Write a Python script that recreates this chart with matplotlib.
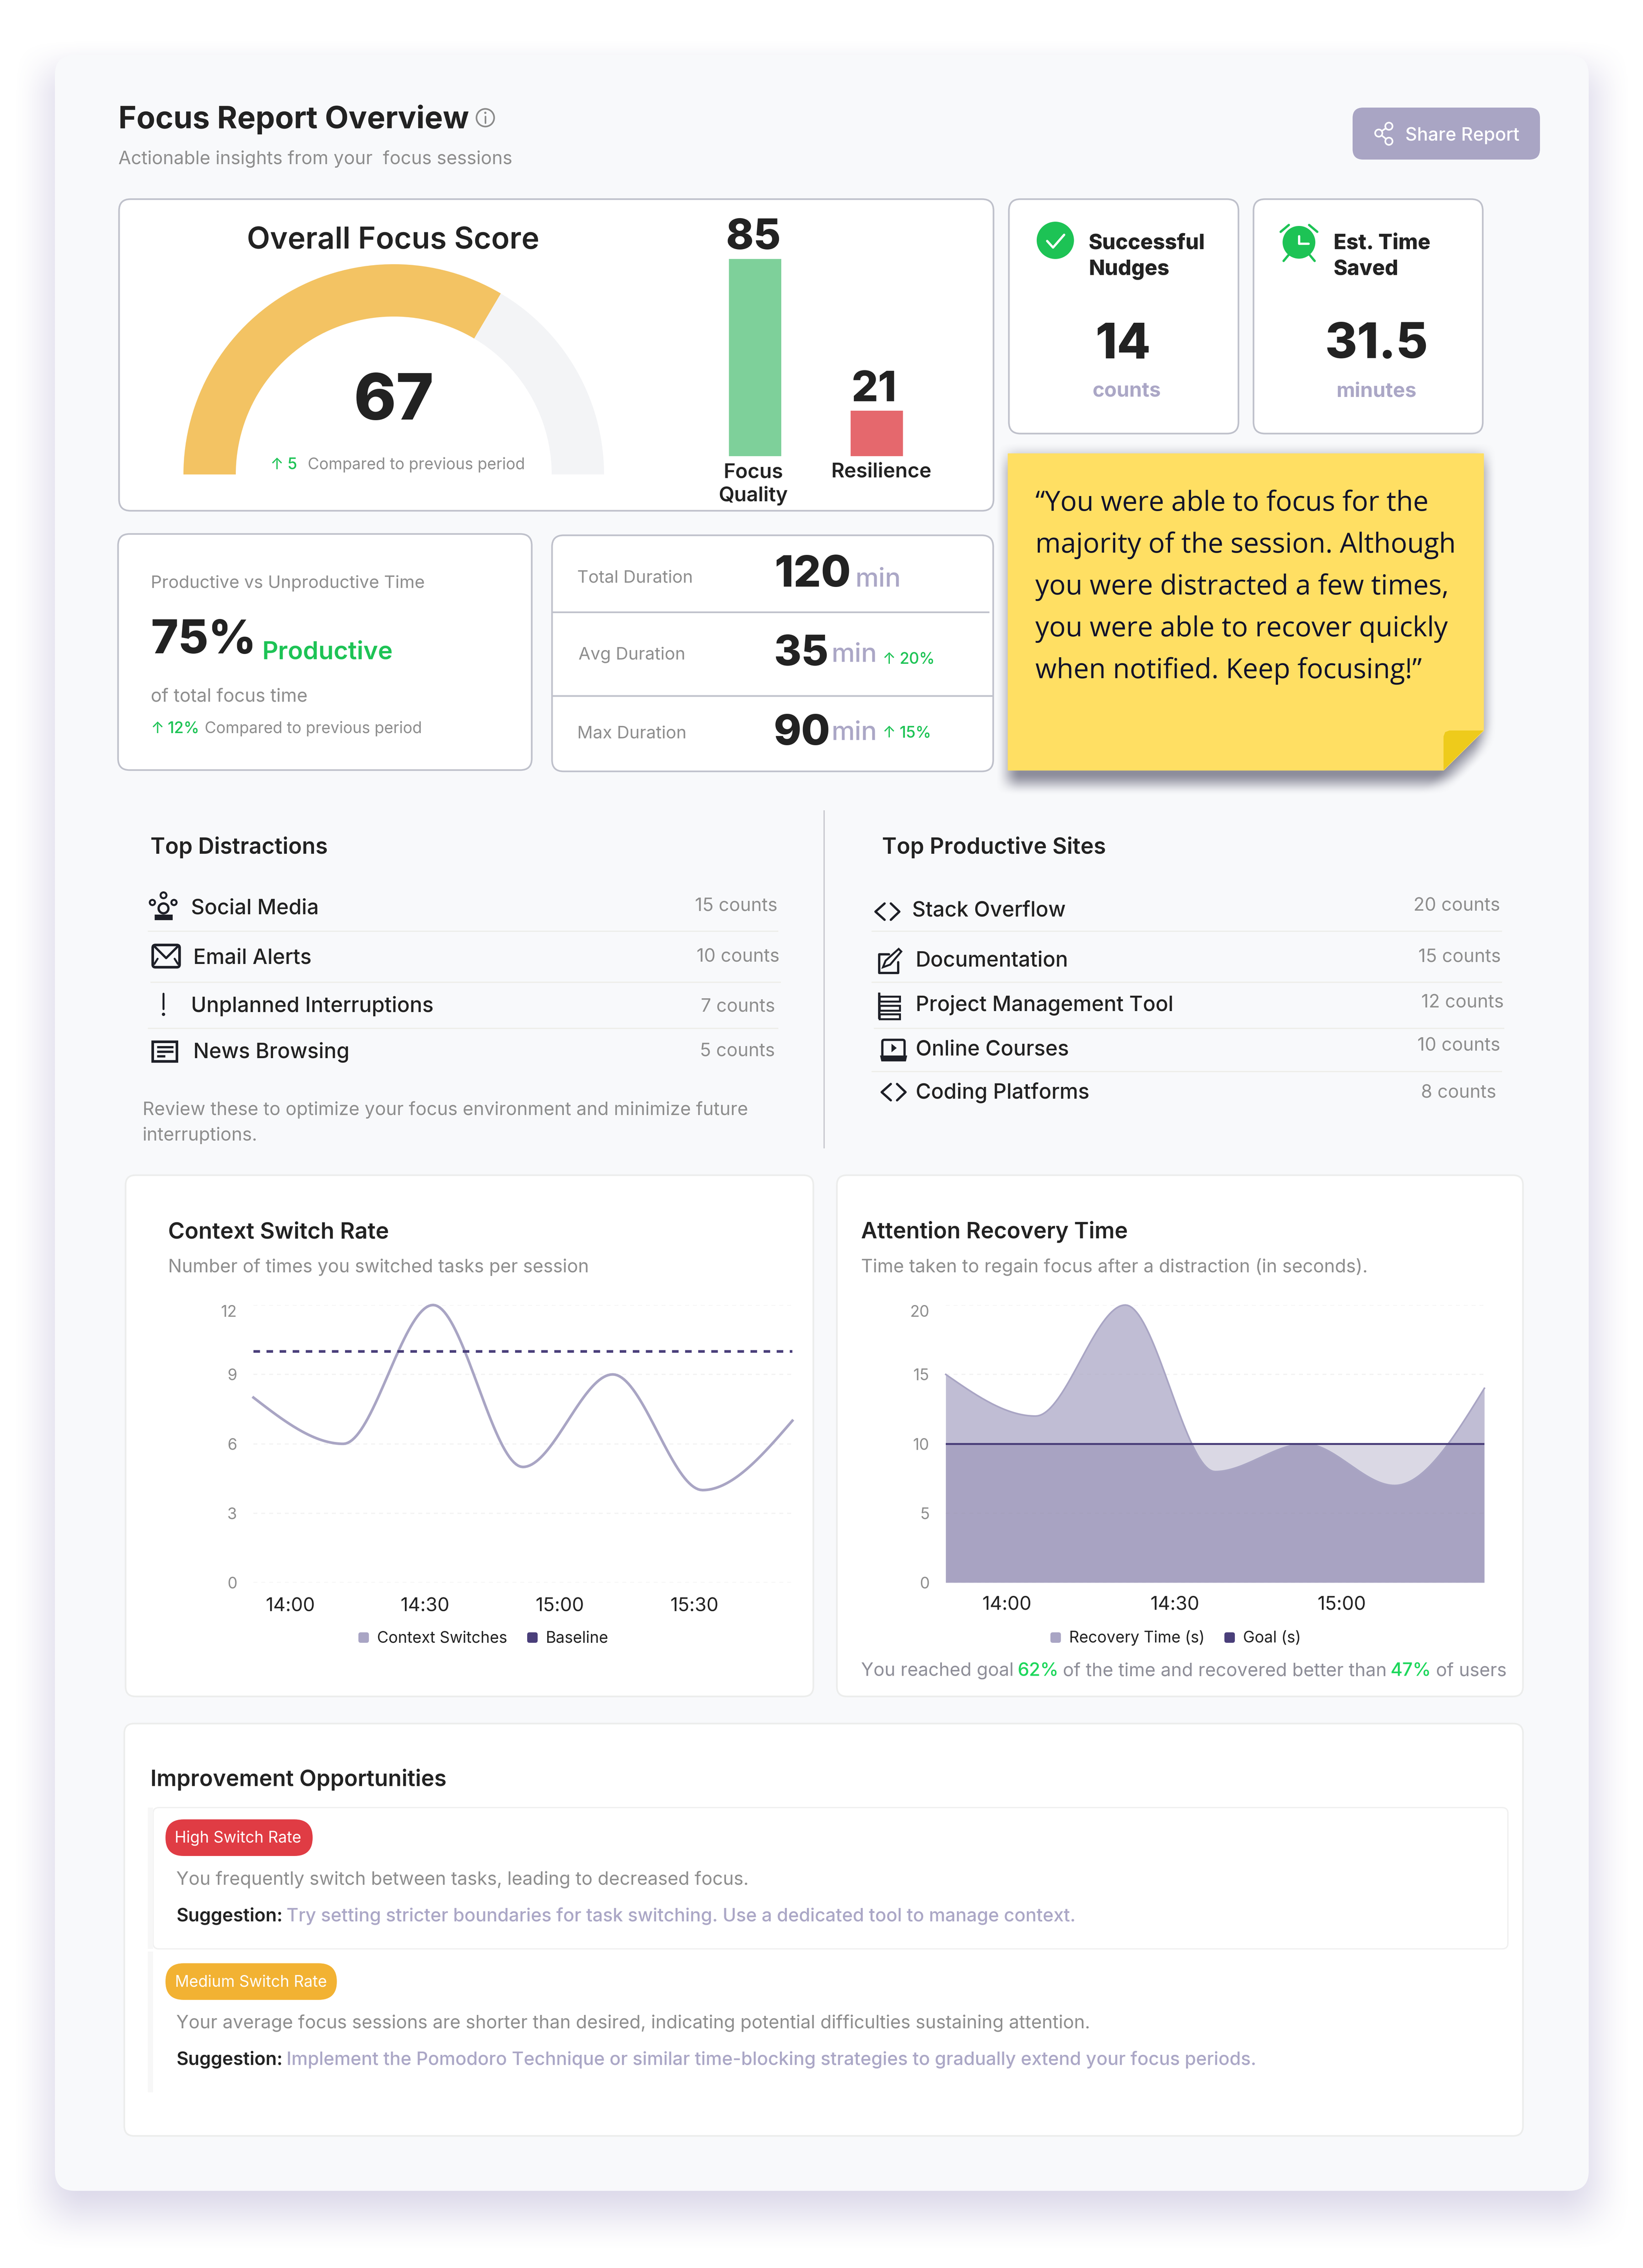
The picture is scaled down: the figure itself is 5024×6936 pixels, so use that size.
#!/usr/bin/env python
"""Focus report dashboard, drawn on a pixel canvas with two real chart axes."""

import numpy as np
import matplotlib
matplotlib.use("Agg")
import matplotlib.pyplot as plt
from matplotlib.colors import to_rgb
from matplotlib.patches import FancyBboxPatch, Wedge, Circle, Polygon, Rectangle

W, H = 5024, 6936

# data
gauge_score = 67
gauge_max = 100
bar_names = ["Focus\nQuality", "Resilience"]
bar_values = [85, 21]

distraction_names = ["Social Media", "Email Alerts", "Unplanned Interruptions", "News Browsing"]
distraction_counts = [15, 10, 7, 5]
site_names = ["Stack Overflow", "Documentation", "Project Management Tool", "Online Courses", "Coding Platforms"]
site_counts = [20, 15, 12, 10, 8]

switch_values = [8, 6, 12, 5, 9, 4, 7]
switch_baseline = [10, 10, 10, 10, 10, 10, 10]
switch_ticks = [0.41, 1.91, 3.41, 4.91]
switch_tick_labels = ["14:00", "14:30", "15:00", "15:30"]
switch_yticks = [0, 3, 6, 9, 12]

recovery_values = [15, 12, 20, 8, 10, 7, 14]
recovery_goal = [10, 10, 10, 10, 10, 10, 10]
recovery_ticks = [0.68, 2.55, 4.41]
recovery_tick_labels = ["14:00", "14:30", "15:00"]
recovery_yticks = [0, 5, 10, 15, 20]

# colours
PAGE = "#F8F9FB"
INK = "#222222"
ICON = "#1E2028"
GREY = "#8E8E8E"
LAV = "#A9A5C4"
LAV_TXT = "#ABA7C6"
DARK = "#4A3F7A"
GREEN = "#1DC355"
BORDER = "#BFC1CB"
RULE = "#EEEEEA"
SOFT = "#ECEDEC"

FONT = ["Inter", "DejaVu Sans"]
plt.rcParams["font.family"] = FONT

fig = plt.figure(figsize=(W / 100, H / 100), dpi=100, facecolor="white")
ax = fig.add_axes([0, 0, 1, 1])
ax.axis("off")


def px(v):
    # canvas pixels to points
    return v * 0.72


def T(x, y, s, size, color=INK, weight="normal", ha="left", family=None):
    return ax.text(x, y, s, fontsize=px(size), color=color, fontweight=weight, ha=ha,
                   va="baseline", family=family or FONT, zorder=6)


def box(x0, y0, x1, y1, r=35, fc="white", ec="none", lw=0, z=2, alpha=None):
    p = FancyBboxPatch((x0, y0), x1 - x0, y1 - y0, boxstyle=f"round,pad=0,rounding_size={r}",
                       fc=fc, ec=ec, lw=px(lw), zorder=z, alpha=alpha)
    ax.add_patch(p)
    return p


def ramp(v, start, end):
    t = np.clip((v - start) / (end - start), 0, 1)
    return t * t * (3 - 2 * t)


def shadow_image(x0, y0, x1, y1, color, alpha_field, step, z):
    # alpha_field gets pixel coordinates, returns 0..1 opacity
    xs = np.arange(x0, x1, step)
    ys = np.arange(y0, y1, step)
    xx, yy = np.meshgrid(xs, ys)
    rgba = np.zeros(xx.shape + (4,))
    rgba[..., :3] = to_rgb(color)
    rgba[..., 3] = alpha_field(xx, yy)
    ax.imshow(rgba, extent=(x0, x1, y1, y0), origin="upper", aspect="auto", interpolation="bilinear", zorder=z)


def stroke(xs, ys, lw=8, color=ICON, z=6, cap="round"):
    ax.plot(xs, ys, color=color, lw=px(lw), solid_capstyle=cap, solid_joinstyle="round", zorder=z)


def ring(x, y, r, lw=8, color=ICON, fc="none", z=6):
    ax.add_patch(Circle((x, y), r, fc=fc, ec=color, lw=px(lw), zorder=z))


def px_axes(x0, y0, x1, y1):
    a = fig.add_axes([x0 / W, 1 - y1 / H, (x1 - x0) / W, (y1 - y0) / H], zorder=3)
    a.patch.set_alpha(0)
    return a


def monotone_curve(values, n=40):
    # same curve as a monotone-x spline: flat at local extremes, no overshoot
    y = np.asarray(values, float)
    s = np.diff(y)
    t = np.zeros(len(y))
    for i in range(1, len(y) - 1):
        p = (s[i - 1] + s[i]) / 2
        t[i] = (np.sign(s[i - 1]) + np.sign(s[i])) * min(abs(s[i - 1]), abs(s[i]), 0.5 * abs(p))
    t[0] = (3 * s[0] - t[1]) / 2
    t[-1] = (3 * s[-1] - t[-2]) / 2
    xs, ys = [], []
    u = np.linspace(0, 1, n, endpoint=False)
    for i in range(len(y) - 1):
        h00 = 2 * u**3 - 3 * u**2 + 1
        h10 = u**3 - 2 * u**2 + u
        h01 = -2 * u**3 + 3 * u**2
        h11 = u**3 - u**2
        xs.append(i + u)
        ys.append(h00 * y[i] + h10 * t[i] + h01 * y[i + 1] + h11 * t[i + 1])
    return np.append(np.concatenate(xs), len(y) - 1), np.append(np.concatenate(ys), y[-1])


def style_chart(a, xmax, yticks, xticks, xlabels, xpad):
    a.set_xlim(0, xmax)
    a.set_ylim(yticks[0], yticks[-1])
    for sp in a.spines.values():
        sp.set_visible(False)
    a.set_yticks(yticks)
    a.set_xticks(xticks)
    a.set_xticklabels(xlabels)
    a.tick_params(axis="x", length=0, pad=px(xpad), labelsize=px(58), labelcolor=INK)
    a.tick_params(axis="y", length=0, pad=px(50), labelsize=px(48), labelcolor=GREY)
    a.get_yticklabels()[-1].set_verticalalignment("top")
    a.grid(axis="y", color="#F3F3F3", lw=px(4), dashes=(3, 3))
    a.set_axisbelow(True)


def legend_item(x, label, color):
    box(x - 16, 4992, x + 16, 5024, r=7, fc=color, z=6)
    T(x + 41, 5023, label, 48, INK)


# page and main card
shadow_image(0, 0, W, H, "#6F62A8",
             lambda xx, yy: 0.25 * ramp(xx, 30, 260) * ramp(xx, W - 30, W - 260)
             * ramp(yy, 110, 300) * ramp(yy, 6890, 6660), 4, 1)
box(168, 168, 4858, 6700, 61, fc=PAGE, z=1.5)

# header
T(362, 392, "Focus Report Overview", 94, INK, "bold")
ring(1484, 360, 27, 5, "#8B8B8B")
stroke([1484, 1484], [356, 376], 5, "#8B8B8B")
ax.add_patch(Circle((1484, 345), 3.5, fc="#8B8B8B", zorder=6))
T(362, 502, "Actionable insights from your  focus sessions", 56, GREY)

box(4136, 329, 4709, 488, 32, fc=LAV)
for nx_, ny_ in [(4216, 407), (4247, 386), (4247, 432)]:
    stroke([4216, nx_], [407, ny_], 5, "white")
for nx_, ny_ in [(4216, 407), (4247, 386), (4247, 432)]:
    ring(nx_, ny_, 11, 5, "white", fc=LAV)
T(4297, 430, "Share Report", 56, "white", "medium")

# focus score card
box(364, 609, 3038, 1562, 35, ec=BORDER, lw=5)
T(1202, 760, "Overall Focus Score", 92, INK, "semibold", ha="center")
gx, gy, gr, gw = 1204, 1451, 643, 160
split = 180 * (1 - gauge_score / gauge_max)
# canvas y points down, so angles run clockwise on screen
ax.add_patch(Wedge((gx, gy), gr, 180, 360, width=gw, fc="#F3F4F6", ec="none", zorder=3))
ax.add_patch(Wedge((gx, gy), gr, 180, 360 - split, width=gw, fc="#F3C363", ec="none", zorder=3))
T(1204, 1283, str(gauge_score), 196, INK, "heavy", ha="center")
T(826, 1435, "↑", 48, GREEN)
T(879, 1435, "5", 48, GREEN, "medium")
T(941, 1435, "Compared to previous period", 48, GREY)

bar_ax = px_axes(2229, 792, 2761, 1395)
bar_rects = bar_ax.bar(range(len(bar_values)), bar_values, width=0.43, color=["#7ED09A", "#E5686D"])
bar_ax.set_xlim(-0.215, 1.215)
bar_ax.set_ylim(1.83, 85)
bar_ax.axis("off")
T(2304, 762, str(bar_values[0]), 128, INK, "heavy", ha="center")
T(2672, 1227, str(bar_values[1]), 128, INK, "heavy", ha="center")
T(2304, 1462, bar_names[0].split("\n")[0], 62, INK, "semibold", ha="center")
T(2304, 1533, bar_names[0].split("\n")[1], 62, INK, "semibold", ha="center")
T(2695, 1460, bar_names[1], 62, INK, "semibold", ha="center")

# nudges card
box(3085, 609, 3787, 1326, 35, ec=BORDER, lw=5)
ax.add_patch(Circle((3227, 735), 57, fc=GREEN, zorder=6))
stroke([3202, 3220, 3254], [737, 757, 718], 7, "white")
T(3329, 761, "Successful", 64, INK, "heavy")
T(3329, 841, "Nudges", 64, INK, "heavy")
T(3434, 1095, "14", 150, INK, "heavy", ha="center")
T(3445, 1214, "counts", 62, LAV_TXT, "bold", ha="center")

# time saved card
box(3833, 609, 4534, 1326, 35, ec=BORDER, lw=5)
ax.add_patch(Circle((3972, 741), 50, fc=GREEN, zorder=6))
stroke([3972, 3972, 4001], [722, 745, 745], 7, "white")
stroke([3916, 3941], [709, 688], 7, GREEN)
stroke([4003, 4028], [688, 709], 7, GREEN)
stroke([3925, 3940], [798, 780], 7, GREEN)
stroke([4020, 4005], [798, 780], 7, GREEN)
T(4078, 761, "Est. Time", 64, INK, "heavy")
T(4078, 841, "Saved", 64, INK, "heavy")
T(4209, 1095, "31.5", 150, INK, "heavy", ha="center")
T(4209, 1214, "minutes", 62, LAV_TXT, "bold", ha="center")

# sticky note
shadow_image(2980, 1300, 4640, 2460, "#5A5A6E",
             lambda xx, yy: 0.68 * ramp(xx, 3043, 3119) * ramp(xx, 4576, 4500)
             * ramp(yy, 1350, 1450) * ramp(yy, 2432, 2362) * ramp(xx + yy, 6855, 6755), 2, 1.6)
ax.add_patch(Polygon([(3083, 1388), (4536, 1388), (4536, 2234), (4414, 2355), (3083, 2355)],
                     fc="#FFDF63", ec="#FFDF63", lw=px(3), joinstyle="round", zorder=2))
ax.add_patch(Polygon([(4414, 2252), (4419, 2239), (4432, 2234), (4536, 2234), (4414, 2355)],
                     fc="#EECB1B", ec="none", zorder=3))
note_lines = ["“You were able to focus for the", "majority of the session. Although",
              "you were distracted a few times,", "you were able to recover quickly",
              "when notified. Keep focusing!”"]
for i, line in enumerate(note_lines):
    T(3166, 1562 + i * 128, line, 84, "#12122A", family=["Open Sans", "DejaVu Sans"])

# productive time card
box(361, 1633, 1626, 2355, 35, ec=BORDER, lw=5)
T(461, 1798, "Productive vs Unproductive Time", 53, GREY)
T(461, 1998, "75%", 142, INK, "heavy")
T(801, 2016, "Productive", 76, GREEN, "semibold")
T(461, 2145, "of total focus time", 56, GREY)
T(461, 2242, "↑", 48, GREEN)
T(513, 2242, "12%", 48, GREEN, "medium")
T(626, 2242, "Compared to previous period", 48, GREY)

# duration card
box(1688, 1637, 3037, 2359, 35, ec=BORDER, lw=5)
stroke([1688, 3025], [1872, 1872], 5, BORDER, cap="butt")
stroke([1688, 3037], [2128, 2128], 5, BORDER, cap="butt")
T(1765, 1781, "Total Duration", 53, GREY)
T(2368, 1794, "120", 132, INK, "heavy")
T(2615, 1794, "min", 80, LAV_TXT, "medium")
T(1769, 2017, "Avg Duration", 53, GREY)
T(2366, 2035, "35", 128, INK, "heavy")
T(2542, 2024, "min", 80, LAV_TXT, "medium")
T(2698, 2030, "↑", 48, GREEN)
T(2751, 2030, "20%", 48, GREEN, "medium")
T(1765, 2257, "Max Duration", 53, GREY)
T(2366, 2278, "90", 128, INK, "heavy")
T(2542, 2263, "min", 80, LAV_TXT, "medium")
T(2698, 2255, "↑", 48, GREEN)
T(2751, 2255, "15%", 48, GREEN, "medium")

# top lists
stroke([2520, 2520], [2478, 3512], 4, "#C9C9CF", cap="butt")
T(460, 2611, "Top Distractions", 68, INK, "semibold")
T(2697, 2611, "Top Productive Sites", 68, INK, "semibold")

d_name_pos = [(584, 2795), (591, 2947), (584, 3095), (591, 3236)]
d_count_pos = [(2377, 2786), (2384, 2942), (2370, 3094), (2370, 3229)]
for name, n, (x, y), (cx, cy) in zip(distraction_names, distraction_counts, d_name_pos, d_count_pos):
    T(x, y, name, 64, INK, "medium")
    T(cx, cy, f"{n} counts", 56, GREY, ha="right")
for y, x0 in [(2848, 452), (3004, 460), (3145, 452)]:
    stroke([x0, x0 + 1928], [y, y], 4, RULE, cap="butt")

s_name_pos = [(2789, 2804), (2800, 2956), (2800, 3092), (2800, 3228), (2800, 3360)]
s_count_pos = [(4587, 2786), (4589, 2942), (4598, 3082), (4588, 3214), (4575, 3358)]
for name, n, (x, y), (cx, cy) in zip(site_names, site_counts, s_name_pos, s_count_pos):
    T(x, y, name, 64, INK, "medium")
    T(cx, cy, f"{n} counts", 56, GREY, ha="right")
for y, x0 in [(2848, 2665), (3004, 2665), (3145, 2672), (3277, 2665)]:
    stroke([x0, x0 + 1928], [y, y], 4, RULE, cap="butt")

T(436, 3410, "Review these to optimize your focus environment and minimize future", 56, GREY)
T(436, 3488, "interruptions.", 56, GREY)

# list icons
ring(500, 2738, 9, 6)
ring(466, 2760, 8, 6)
ring(532, 2760, 8, 6)
ring(500, 2778, 15, 7)
ax.add_patch(Rectangle((473, 2797), 55, 17, fc=ICON, zorder=6))
box(467, 2890, 549, 2958, 8, fc="none", ec=ICON, lw=8, z=6)
stroke([474, 508, 542], [2896, 2930, 2896], 7)
stroke([482, 472], [2932, 2948], 6)
stroke([534, 544], [2932, 2948], 6)
stroke([500, 500], [3039, 3086], 6)
ax.add_patch(Circle((500, 3102), 5, fc=ICON, zorder=6))
ax.add_patch(Rectangle((467, 3186), 74, 60, fc="none", ec=ICON, lw=px(8), zorder=6))
stroke([480, 530], [3202, 3202], 7, cap="butt")
stroke([480, 530], [3216, 3216], 7, cap="butt")
stroke([480, 505], [3230, 3230], 7, cap="butt")

for dx, dy in [(0, 0), (19, 552)]:
    stroke([2705 + dx, 2677 + dx, 2705 + dx], [2763 + dy, 2788 + dy, 2813 + dy], 7)
    stroke([2724 + dx, 2750 + dx, 2724 + dx], [2763 + dy, 2788 + dy, 2813 + dy], 7)
stroke([2718, 2688, 2688, 2746, 2746], [2918, 2918, 2975, 2975, 2942], 7)
ax.add_patch(Polygon([(2748, 2902), (2756, 2910), (2722, 2950), (2700, 2958), (2708, 2938)],
                     fc="none", ec=ICON, lw=px(6), zorder=6))
stroke([2688, 2688], [3035, 3116], 7, cap="butt")
for y0 in [3048, 3076, 3102]:
    ax.add_patch(Rectangle((2690, y0), 62, 15, fc="none", ec=ICON, lw=px(6), zorder=6))
box(2698, 3180, 2766, 3234, 6, fc="none", ec=ICON, lw=7, z=6)
ax.add_patch(Polygon([(2726, 3192), (2726, 3218), (2742, 3205)], fc=ICON, zorder=6))
ax.add_patch(Polygon([(2691, 3228), (2774, 3228), (2770, 3246), (2695, 3246)], fc=ICON, zorder=6))

# context switch chart
box(384, 3594, 2487, 5188, 30, ec=SOFT, lw=5)
T(514, 3787, "Context Switch Rate", 69, INK, "semibold")
T(514, 3891, "Number of times you switched tasks per session", 56, GREY)

ca = px_axes(775, 3991, 2423, 4840)
style_chart(ca, len(switch_values) - 1, switch_yticks, switch_ticks, switch_tick_labels, 45)
cx_, cy_ = monotone_curve(switch_values)
ca.plot(cx_, cy_, color=LAV, lw=px(8), clip_on=False)
ca.plot(range(len(switch_baseline)), switch_baseline, color=DARK, lw=px(8), dashes=(2.5, 2.5), clip_on=False)
legend_item(1112, "Context Switches", LAV)
legend_item(1628, "Baseline", DARK)

# recovery chart
box(2559, 3594, 4657, 5188, 30, ec=SOFT, lw=5)
T(2633, 3787, "Attention Recovery Time", 68, INK, "semibold")
T(2633, 3891, "Time taken to regain focus after a distraction (in seconds).", 56, GREY)

ra = px_axes(2892, 3991, 4539, 4840)
style_chart(ra, len(recovery_values) - 1, recovery_yticks, recovery_ticks, recovery_tick_labels, 42)
rx_, ry_ = monotone_curve(recovery_values)
ra.fill_between(rx_, ry_, 0, color=LAV, alpha=0.73, lw=0)
ra.plot(rx_, ry_, color=LAV, lw=px(5), clip_on=False)
ra.fill_between(range(len(recovery_goal)), recovery_goal, 0, color=DARK, alpha=0.2, lw=0)
ra.plot(range(len(recovery_goal)), recovery_goal, color=DARK, lw=px(6))
legend_item(3228, "Recovery Time (s)", LAV)
legend_item(3760, "Goal (s)", DARK)

NOTE = "#8E8E98"
T(2633, 5125, "You reached goal", 56, NOTE)
T(3112, 5125, "62%", 56, "#1DD75B", "medium")
T(3250, 5125, "of the time and recovered better than", 56, NOTE)
T(4252, 5125, "47%", 56, "#1DD75B", "medium")
T(4391, 5125, "of users", 56, NOTE)

# improvement card
box(380, 5271, 4657, 6532, 30, ec=SOFT, lw=5)
T(460, 5462, "Improvement Opportunities", 68, INK, "semibold")

box(468, 5528, 4611, 5960, 18, ec="#F0F0F0", lw=4, z=2.3)
stroke([460, 460], [5528, 5960], 16, "#F7F7F7", z=2.4, cap="butt")
stroke([460, 460], [5968, 6399], 16, "#F7F7F7", z=2.4, cap="butt")

box(506, 5564, 956, 5676, 56, fc="#E03C44", z=3)
T(728, 5635, "High Switch Rate", 48, "white", ha="center")
T(539, 5764, "You frequently switch between tasks, leading to decreased focus.", 56, GREY)
T(539, 5876, "Suggestion:", 56, INK, "semibold")
T(876, 5876, "Try setting stricter boundaries for task switching. Use a dedicated tool to manage context.", 56, LAV_TXT, "medium")

box(506, 6004, 1030, 6116, 56, fc="#F2B233", z=3)
T(767, 6075, "Medium Switch Rate", 48, "white", ha="center")
T(539, 6203, "Your average focus sessions are shorter than desired, indicating potential difficulties sustaining attention.", 56, GREY)
T(539, 6315, "Suggestion:", 56, INK, "semibold")
T(876, 6315, "Implement the Pomodoro Technique or similar time-blocking strategies to gradually extend your focus periods.", 56, LAV_TXT, "medium")

# imshow resets the view, so the canvas limits go last
ax.set_xlim(0, W)
ax.set_ylim(H, 0)
fig.savefig("out.png", dpi=100, facecolor="white")
